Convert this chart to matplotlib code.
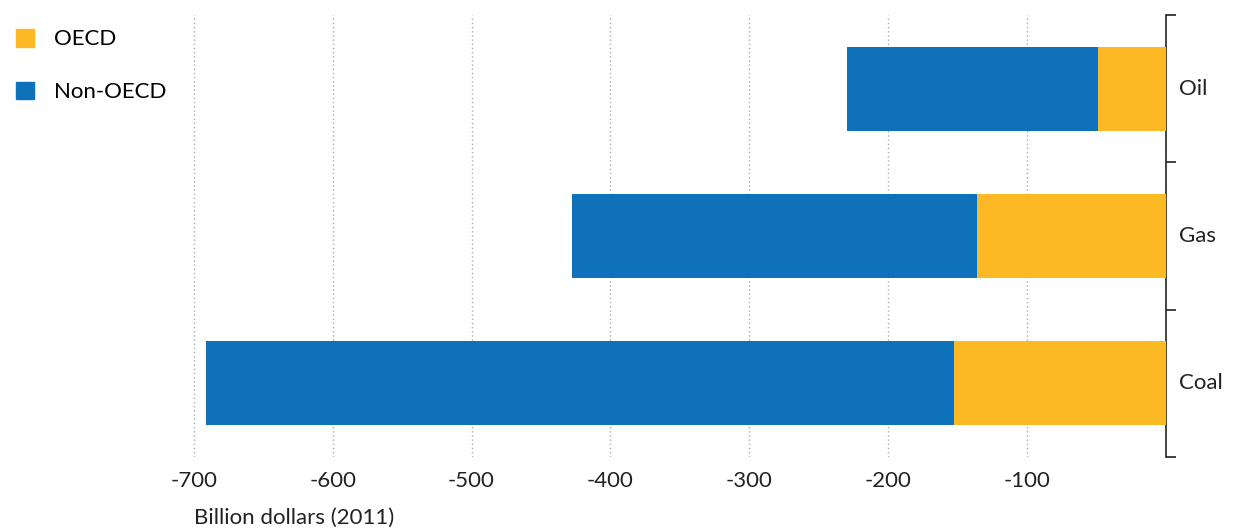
import matplotlib.pyplot as plt
from matplotlib.patches import Patch

plt.rcParams['font.family'] = ['Lato', 'DejaVu Sans']

# data (billion dollars, 2011)
fuels = ['Oil', 'Gas', 'Coal']
oecd = [-49, -136, -153]
non_oecd = [-181, -292, -538]   # added on top of OECD
ticks = [-700, -600, -500, -400, -300, -200, -100]

c_oecd = '#FDB924'
c_non = '#0F71BA'

fig = plt.figure(figsize=(12.38, 5.31), dpi=100)
ax = fig.add_axes([166 / 1238, 1 - 457 / 531, 1000 / 1238, 442 / 531])

y = list(range(len(fuels)))
ax.barh(y, oecd, height=0.57, color=c_oecd, zorder=3)
ax.barh(y, non_oecd, left=oecd, height=0.57, color=c_non, zorder=3)

ax.set_xlim(-720, 0)
ax.set_ylim(2.5, -0.5)

ax.set_xticks(ticks)
ax.set_xticklabels([str(t) for t in ticks], fontsize=16, color='#222222')
ax.tick_params(axis='x', length=0, pad=10)
ax.grid(axis='x', linestyle=(0, (1, 2)), color='#aaaaaa', linewidth=1, zorder=0)

# category labels on the right, ticks at boundaries
ax.yaxis.tick_right()
ax.set_yticks([-0.5, 0.5, 1.5, 2.5])
ax.set_yticklabels([])
ax.tick_params(axis='y', length=7, width=1.2, color='#222222', direction='out')
for i, f in enumerate(fuels):
    ax.text(1.013, i, f, transform=ax.get_yaxis_transform(), fontsize=16,
            va='center', ha='left', color='#222222')

for s in ['left', 'top', 'bottom']:
    ax.spines[s].set_visible(False)
ax.spines['right'].set_color('#222222')
ax.spines['right'].set_linewidth(1.2)

ax.set_xlabel('Billion dollars (2011)', fontsize=16, color='#222222')
ax.xaxis.set_label_coords(28 / 1000, -0.138, transform=ax.transAxes)
ax.xaxis.label.set_ha('left')
ax.xaxis.label.set_va('center')

handles = [Patch(color=c_oecd, label='OECD'), Patch(color=c_non, label='Non-OECD')]
fig.legend(handles=handles, loc='upper left', bbox_to_anchor=(0.0, 0.975),
           frameon=False, fontsize=16, handlelength=0.85, handleheight=0.85,
           labelspacing=1.45, handletextpad=0.9, borderaxespad=0.3)

fig.savefig('out.png', dpi=100)
